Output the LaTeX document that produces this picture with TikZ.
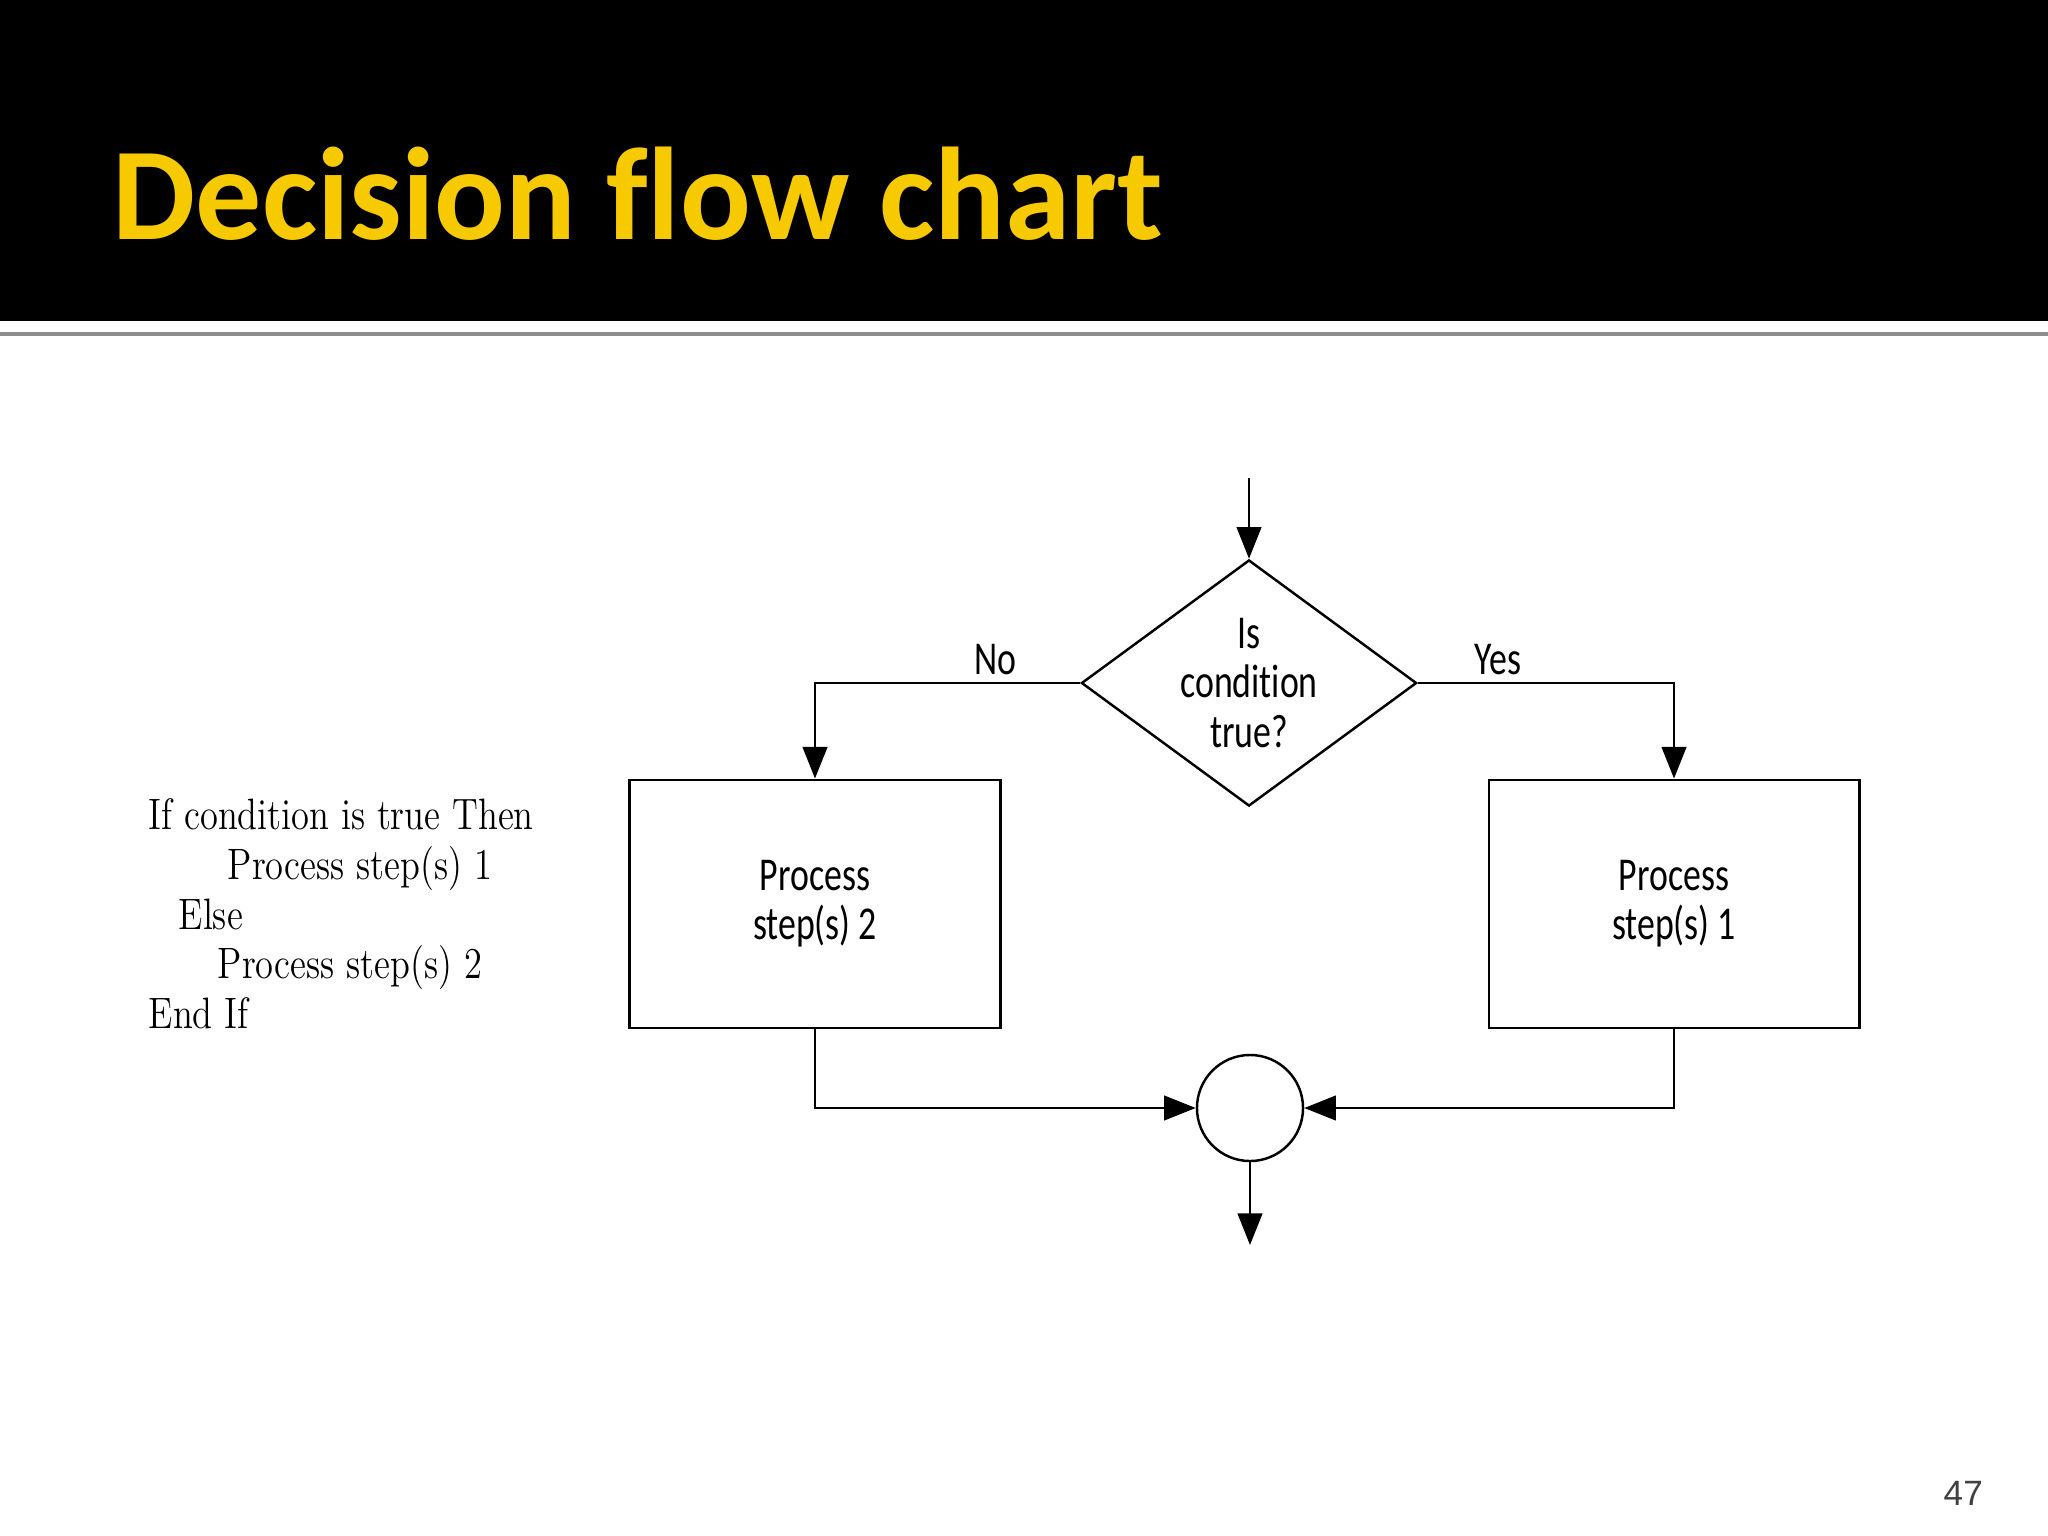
\documentclass[tikz,border=0pt]{standalone}
\usepackage{fontspec}
\usetikzlibrary{arrows.meta,shapes.geometric}
\newfontfamily\titlefont[Ligatures=NoCommon]{Carlito}
\newfontfamily\chartfont[FakeStretch=0.76,Ligatures=NoCommon]{Carlito}
\newfontfamily\codefont[FakeStretch=0.83]{lmroman12-regular.otf}
\newfontfamily\pagefont{Liberation Sans}
\definecolor{titleyellow}{RGB}{247,202,0}
\definecolor{rulegray}{RGB}{140,140,140}
\definecolor{pagegray}{RGB}{64,64,64}

\begin{document}
\begin{tikzpicture}[x=0.01cm,y=-0.01cm,
  flowline/.style={line width=0.7pt},
  arrowline/.style={flowline,-{Triangle[length=9pt,width=7pt]}},
  decisionbox/.style={draw,diamond,shape aspect=1.36,line width=0.7pt,minimum width=3.35cm,
    minimum height=2.46cm,inner sep=0pt,align=center,font=\chartfont\fontsize{13.4}{14.2}\selectfont},
  processbox/.style={draw,rectangle,line width=0.8pt,minimum width=3.7cm,minimum height=2.48cm,
    align=center,font=\chartfont\fontsize{13.4}{13.9}\selectfont},
  joinpoint/.style={draw,circle,line width=0.7pt,minimum size=1.06cm,inner sep=0pt},
  branchlabel/.style={above,inner sep=2pt,font=\chartfont\fontsize{13.4}{14}\selectfont},
  codeline/.style={anchor=base west,inner sep=0pt,font=\codefont\fontsize{12.5}{15}\selectfont}]
  % page and header bar
  \fill[white] (0,0) rectangle (2048,1536);
  \useasboundingbox (0,0) rectangle (2048,1536);
  \fill[black] (0,0) rectangle (2048,321);
  \draw[rulegray,line width=0.04cm] (0,334) -- (2048,334);
  \node[anchor=base west,inner sep=0pt,text=titleyellow,
    font=\titlefont\bfseries\fontsize{37.5}{45}\selectfont] (title) at (112,239) {Decision flow chart};
  % pseudo code
  \node[codeline] (code1) at (148,829) {If condition is true Then};
  \node[codeline] (code2) at (227,879) {Process step(s) 1};
  \node[codeline] (code3) at (178,929) {Else};
  \node[codeline] (code4) at (217,978) {Process step(s) 2};
  \node[codeline] (code5) at (148,1028) {End If};
  % flow chart
  \coordinate (entry) at (1249,478);
  \node[decisionbox] (cond) at (1249,683) {Is\\condition\\true?};
  \node[processbox] (stepno) at (815,904) {Process\\step(s) 2};
  \node[processbox] (stepyes) at (1674,904) {Process\\step(s) 1};
  \node[joinpoint] (join) at (1250,1108) {};
  \coordinate (exit) at (1250,1245);
  \draw[arrowline] (entry) -- (cond.north);
  \draw[arrowline] (cond.west) -| node[branchlabel,pos=0.16] (nolabel) {No} (stepno.north);
  \draw[arrowline] (cond.east) -| node[branchlabel,pos=0.156] (yeslabel) {Yes} (stepyes.north);
  \draw[arrowline] (stepno.south) |- (join.west);
  \draw[arrowline] (stepyes.south) |- (join.east);
  \draw[arrowline] (join.south) -- (exit);
  % slide number
  \node[anchor=base west,inner sep=0pt,text=pagegray,
    font=\pagefont\fontsize{10}{12}\selectfont] (pagenum) at (1943,1505) {47};
\end{tikzpicture}
\end{document}
